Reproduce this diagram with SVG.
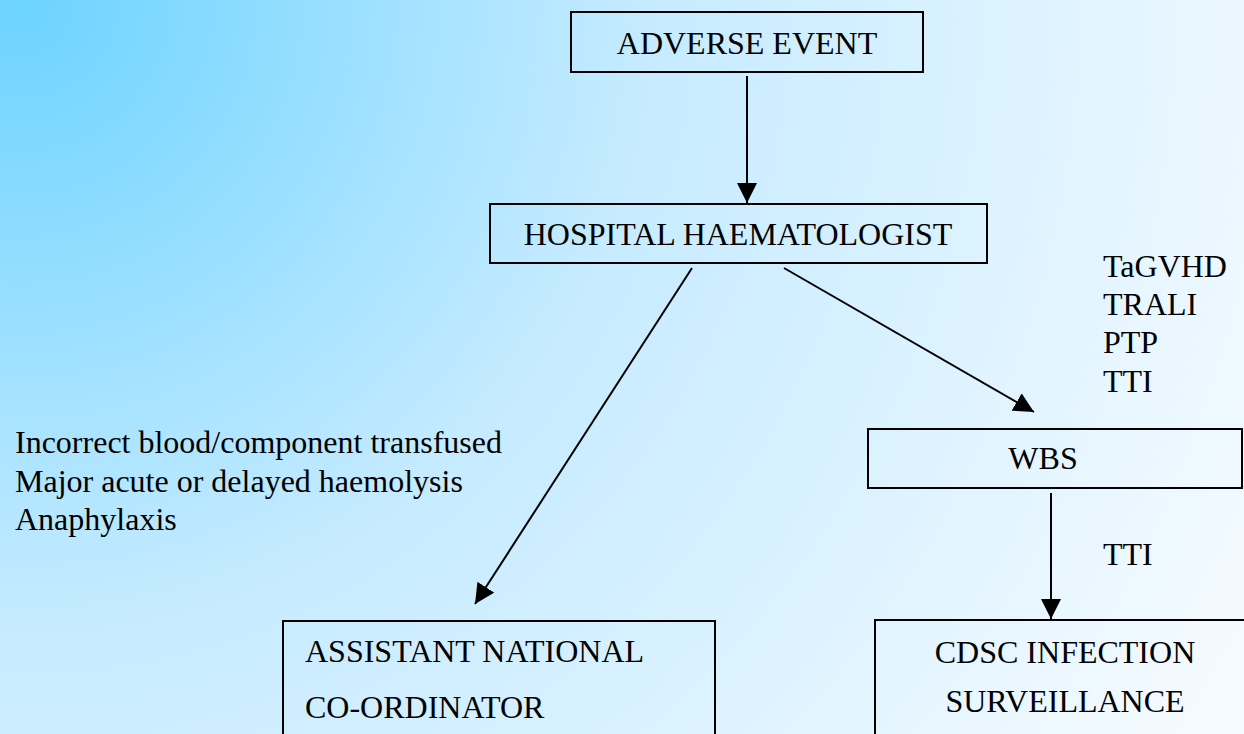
<svg xmlns="http://www.w3.org/2000/svg" width="1244" height="734" viewBox="0 0 1244 734">
<defs>
<radialGradient id="bg" gradientUnits="userSpaceOnUse" cx="20" cy="0" r="1400">
<stop offset="0" stop-color="#6cd3ff"/>
<stop offset="0.45" stop-color="#c6ebff"/>
<stop offset="1" stop-color="#f6fbff"/>
</radialGradient>
<marker id="ah" markerUnits="userSpaceOnUse" markerWidth="20" markerHeight="20" refX="20" refY="10" orient="auto" viewBox="0 0 20 20">
<path d="M0,0 L20,10 L0,20 z" fill="#000"/>
</marker>
<style>
.box{fill:none;stroke:#000;stroke-width:2}
.t{font-family:"Liberation Serif","Times New Roman",serif;font-size:32px;fill:#000}
.c{text-anchor:middle}
.e{stroke:#000;stroke-width:2;fill:none;marker-end:url(#ah)}
</style>
</defs>
<rect width="1244" height="734" fill="url(#bg)"/>
<g id="connectors">
<line class="e" x1="747" y1="76" x2="747" y2="203"/>
<line class="e" x1="692" y1="268" x2="475" y2="604"/>
<line class="e" x1="784" y1="268" x2="1034" y2="412"/>
<line class="e" x1="1051" y1="493" x2="1051" y2="619"/>
</g>
<g id="adverse-event">
<rect class="box" x="571" y="12" width="352" height="60"/>
<text class="t c" x="747" y="54">ADVERSE EVENT</text>
</g>
<g id="hospital-haematologist">
<rect class="box" x="490" y="204" width="497" height="59"/>
<text class="t c" x="738" y="245">HOSPITAL HAEMATOLOGIST</text>
</g>
<g id="wbs">
<rect class="box" x="868" y="429" width="374" height="59"/>
<text class="t c" x="1043" y="469">WBS</text>
</g>
<g id="assistant-national-coordinator">
<rect class="box" x="283" y="621" width="432" height="130"/>
<text class="t" x="305" y="662">ASSISTANT NATIONAL</text>
<text class="t" x="305" y="718">CO-ORDINATOR</text>
</g>
<g id="cdsc-infection-surveillance">
<rect class="box" x="875" y="620" width="400" height="130"/>
<text class="t c" x="1065" y="663">CDSC INFECTION</text>
<text class="t c" x="1065" y="712">SURVEILLANCE</text>
</g>
<g id="wbs-conditions">
<text class="t" x="1103" y="277">TaGVHD</text>
<text class="t" x="1103" y="315">TRALI</text>
<text class="t" x="1103" y="353">PTP</text>
<text class="t" x="1103" y="392">TTI</text>
</g>
<g id="anc-conditions">
<text class="t" x="15" y="453">Incorrect blood/component transfused</text>
<text class="t" x="15" y="492">Major acute or delayed haemolysis</text>
<text class="t" x="15" y="530">Anaphylaxis</text>
</g>
<g id="tti-label">
<text class="t" x="1103" y="565">TTI</text>
</g>
</svg>
